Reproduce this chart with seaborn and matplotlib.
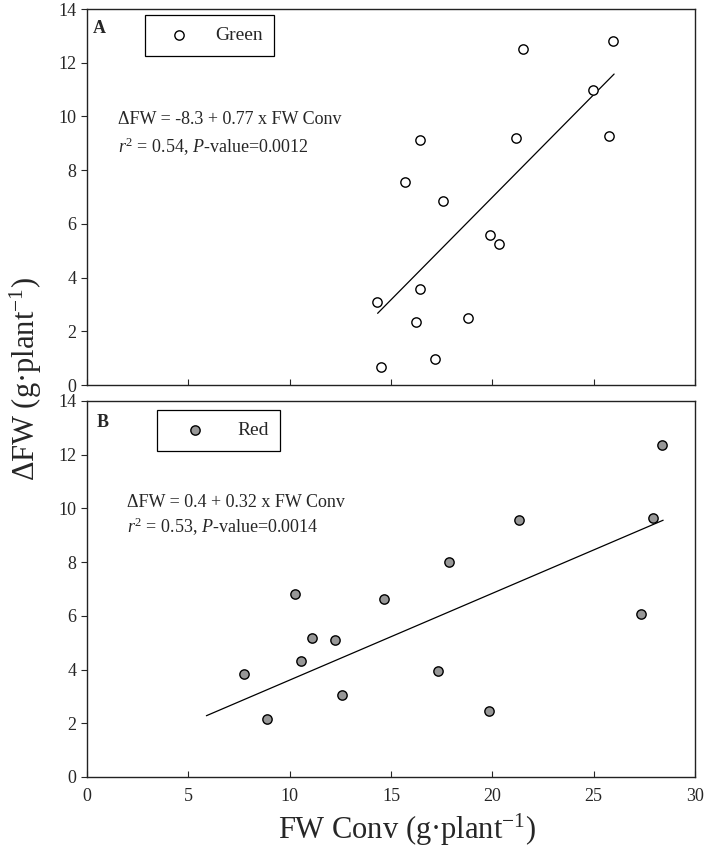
import numpy as np
import pandas as pd
import seaborn as sns
import matplotlib.pyplot as plt

# Panel A - green light
green_x = [25.97, 21.53, 24.95, 25.74, 21.16, 16.43, 15.70, 17.56, 19.90, 20.33, 16.43, 14.32, 16.23, 18.81, 17.17, 14.52]
green_y = [12.81, 12.51, 10.98, 9.28, 9.18, 9.12, 7.56, 6.85, 5.57, 5.27, 3.56, 3.10, 2.36, 2.48, 0.98, 0.67]
green_fit_x = [14.34, 26.01]
green_fit_y = [2.67, 11.58]

# Panel B - red light
red_x = [28.38, 27.91, 21.31, 17.84, 14.65, 27.35, 17.30, 19.85, 10.26, 11.12, 12.23, 10.57, 7.75, 12.58, 8.88]
red_y = [12.36, 9.63, 9.58, 8.00, 6.61, 6.08, 3.93, 2.46, 6.80, 5.18, 5.09, 4.33, 3.83, 3.06, 2.14]
red_fit_x = [5.89, 28.43]
red_fit_y = [2.28, 9.56]

x_ticks = [0, 5, 10, 15, 20, 25, 30]
y_ticks = [0, 2, 4, 6, 8, 10, 12, 14]

sns.set_style("ticks")
plt.rcParams['font.family'] = ['Liberation Serif', 'DejaVu Serif']
plt.rcParams['mathtext.fontset'] = 'custom'
plt.rcParams['mathtext.rm'] = 'Liberation Serif'
plt.rcParams['mathtext.it'] = 'Liberation Serif:italic'
plt.rcParams['axes.edgecolor'] = '#222222'
plt.rcParams['axes.linewidth'] = 1.0

fig = plt.figure(figsize=(7.08, 8.61), dpi=100)
ax1 = fig.add_axes([0.1229, 0.5528, 0.8587, 0.4367])
ax2 = fig.add_axes([0.1229, 0.0976, 0.8587, 0.4367])

# axis, data, fit line, fill, label, letter, letter pos, legend (anchor, handlelength, textpad)
panels = [
    (ax1, green_x, green_y, green_fit_x, green_fit_y, 'white', 'Green', 'A',
     (0.010, 0.949), (0.095, 0.984), 2.3, 0.7),
    (ax2, red_x, red_y, red_fit_x, red_fit_y, '#979797', 'Red', 'B',
     (0.016, 0.944), (0.115, 0.976), 2.72, 0.8),
]

for ax, xs, ys, fx, fy, fc, name, letter, lpos, anchor, hl, tp in panels:
    df = pd.DataFrame({'x': xs, 'y': ys})
    sns.lineplot(x=fx, y=fy, ax=ax, color='black', linewidth=0.9)
    sns.scatterplot(data=df, x='x', y='y', ax=ax, s=45, color=fc,
                    edgecolor='black', linewidth=1.0, label=name, zorder=3)
    ax.set_xlim(0, 30)
    ax.set_ylim(0, 14)
    ax.set_xticks(x_ticks)
    ax.set_yticks(y_ticks)
    ax.set_xlabel('')
    ax.set_ylabel('')
    ax.tick_params(axis='x', direction='in', length=4, labelsize=13, pad=8)
    ax.tick_params(axis='y', direction='out', length=4, labelsize=13)
    for sp in ax.spines.values():
        sp.set_visible(True)
    ax.text(lpos[0], lpos[1], letter, transform=ax.transAxes, fontsize=13,
            fontweight='bold', va='center', ha='left')
    leg = ax.legend(loc='upper left', bbox_to_anchor=anchor, frameon=True,
                    fancybox=False, framealpha=1, edgecolor='black', fontsize=14,
                    borderpad=0.6, handlelength=hl, handletextpad=tp, borderaxespad=0)
    leg.get_frame().set_linewidth(0.9)

ax1.set_xticklabels([])

ax1.text(0.051, 0.705, "\u0394FW = -8.3 + 0.77 x FW Conv", transform=ax1.transAxes,
         fontsize=13, va='center')
ax1.text(0.051, 0.633, "$r^2$ = 0.54, $P$-value=0.0012", transform=ax1.transAxes,
         fontsize=13, va='center')
ax2.text(0.066, 0.731, "\u0394FW = 0.4 + 0.32 x FW Conv", transform=ax2.transAxes,
         fontsize=13, va='center')
ax2.text(0.066, 0.664, "$r^2$ = 0.53, $P$-value=0.0014", transform=ax2.transAxes,
         fontsize=13, va='center')

fig.text(0.037, 0.56, "\u0394FW (g\u00b7plant$^{-1}$)", rotation=90,
         fontsize=22, ha='center', va='center')
fig.text(0.575, 0.036, "FW Conv (g\u00b7plant$^{-1}$)", fontsize=22,
         ha='center', va='center')

fig.savefig('out.png', dpi=100)
